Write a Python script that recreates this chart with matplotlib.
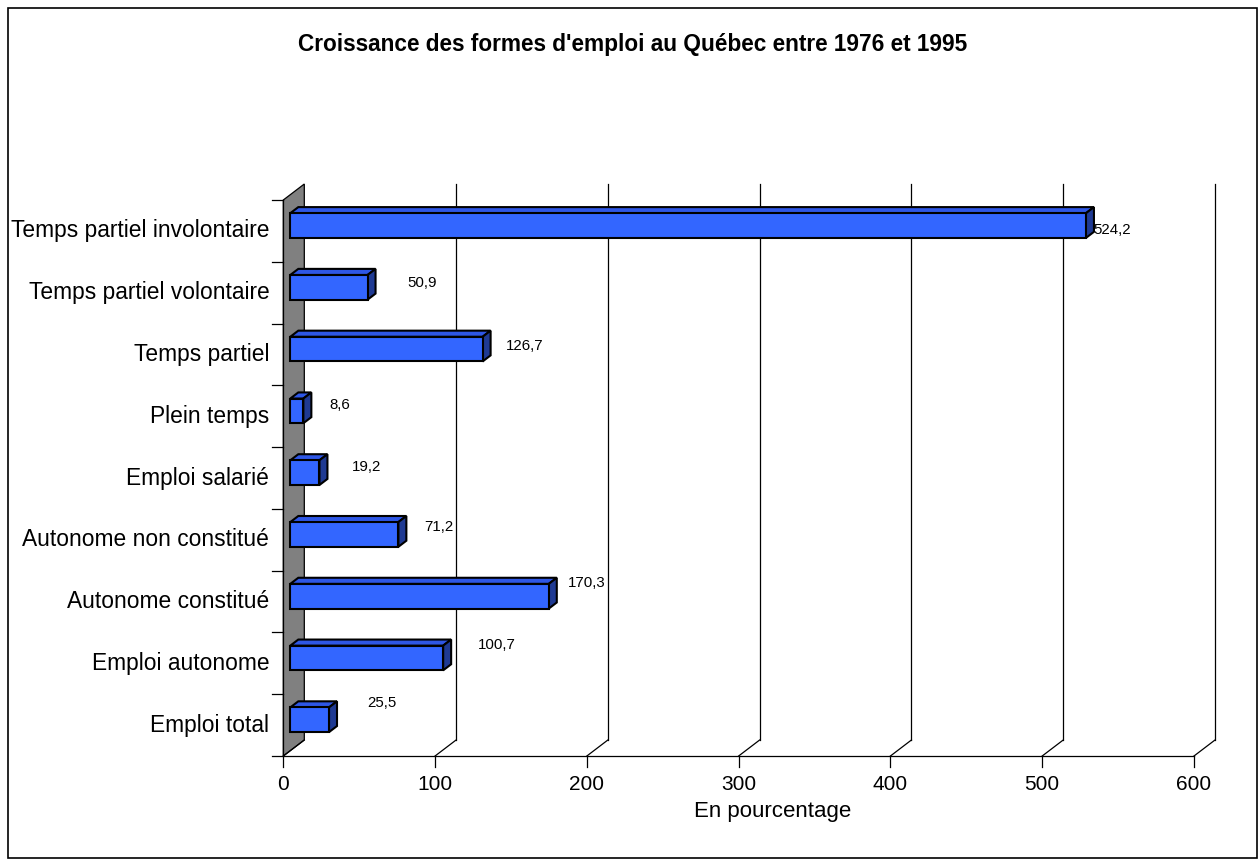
import matplotlib.pyplot as plt
from matplotlib.patches import Polygon, Rectangle
import numpy as np

plt.rcParams['font.family'] = ['Liberation Sans', 'DejaVu Sans']

title = "Croissance des formes d'emploi au Québec entre 1976 et 1995"
categories = ["Temps partiel involontaire", "Temps partiel volontaire", "Temps partiel",
              "Plein temps", "Emploi salarié", "Autonome non constitué",
              "Autonome constitué", "Emploi autonome", "Emploi total"]
values = [524.2, 50.9, 126.7, 8.6, 19.2, 71.2, 170.3, 100.7, 25.5]
value_labels = ["524,2", "50,9", "126,7", "8,6", "19,2", "71,2", "170,3", "100,7", "25,5"]
x_ticks = [0, 100, 200, 300, 400, 500, 600]
x_label = "En pourcentage"

# where each value label sits, in pixels from the bar's front end / category centre
label_dx = [33, 62, 49, 43, 54, 48, 45, 61, 60]
label_dy = [1, 10, 8, 11, 11, 13, 19, 18, 22]

W, H, DPI = 1259, 861, 100
fig = plt.figure(figsize=(W / DPI, H / DPI), dpi=DPI)
fig.patch.set_facecolor('white')

# front plane of the plot in pixels
x0, x1, y_top, y_bot = 283.3, 1194.0, 200.0, 756.0
ax = fig.add_axes([x0 / W, (H - y_bot) / H, (x1 - x0) / W, (y_bot - y_top) / H])
ax.set_xlim(0, 600)
ax.set_ylim(0, len(categories))
ax.axis('off')

# depth of the 3D box, converted from pixels to data units
px_x = (x1 - x0) / 600.0
px_y = (y_bot - y_top) / len(categories)
DX = 21 / px_x
DY = 16 / px_y
n = len(categories)
centers = np.arange(n)[::-1] + 0.5

line_kw = dict(color='black', lw=0.9, clip_on=False)

# left wall
wall = Polygon([(0, 0), (DX, DY), (DX, n + DY), (0, n)], closed=True,
               facecolor='#808080', edgecolor='black', lw=0.9, clip_on=False, zorder=1)
ax.add_patch(wall)

# back-wall gridlines and floor diagonals
for t in x_ticks:
    if t > 0:
        ax.plot([t + DX, t + DX], [DY, n + DY], zorder=1, **line_kw)
    ax.plot([t, t + DX], [0, DY], zorder=1, **line_kw)

# front axes
ax.plot([0, 600], [0, 0], zorder=2, **line_kw)
ax.plot([0, 0], [0, n], zorder=2, **line_kw)
tick_x = 11 / px_x
tick_y = 11 / px_y
for t in x_ticks:
    ax.plot([t, t], [0, -tick_y], zorder=2, **line_kw)
    ax.text(t, -29 / px_y, str(t), ha='center', va='center', fontsize=15)
for k in range(n + 1):
    ax.plot([0, -tick_x], [k, k], zorder=2, **line_kw)

# 3D bars
f0, f1 = 7 / 21, 15 / 21
half = 0.2
front_c, top_c, side_c = '#3366FF', '#2E57E6', '#1F3A93'
bar_kw = dict(closed=True, edgecolor='black', lw=1.5, clip_on=False, zorder=3,
              joinstyle='miter')
for c, v in zip(centers, values):
    ax0, ay0 = f0 * DX, c + f0 * DY
    bx0, by0 = f1 * DX, c + f1 * DY
    top = Polygon([(ax0, ay0 + half), (ax0 + v, ay0 + half),
                   (bx0 + v, by0 + half), (bx0, by0 + half)], facecolor=top_c, **bar_kw)
    side = Polygon([(ax0 + v, ay0 - half), (ax0 + v, ay0 + half),
                    (bx0 + v, by0 + half), (bx0 + v, by0 - half)], facecolor=side_c, **bar_kw)
    front = Polygon([(ax0, ay0 - half), (ax0 + v, ay0 - half),
                     (ax0 + v, ay0 + half), (ax0, ay0 + half)], facecolor=front_c, **bar_kw)
    for p in (top, side, front):
        ax.add_patch(p)

# value labels
for c, v, lab, dx, dy in zip(centers, values, value_labels, label_dx, label_dy):
    ax.annotate(lab, xy=(v, c), xytext=(dx, dy), textcoords='offset pixels',
                ha='center', va='center', fontsize=10.8, zorder=4, annotation_clip=False)

# category labels
for c, name in zip(centers, categories):
    ax.text(-14 / px_x, c, name, ha='right', va='center', fontsize=16.4)

fig.text(773 / W, 1 - 812 / H, x_label, ha='center', va='center', fontsize=16)
fig.text(633 / W, 1 - 45 / H, title, ha='center', va='center', fontsize=16.3,
         fontweight='bold')

# chart frame
fig.add_artist(Rectangle((8 / W, 1 - 858 / H), (1257 - 8) / W, (858 - 8) / H,
                         transform=fig.transFigure, fill=False, edgecolor='black', lw=1.2))

fig.savefig('out.png', dpi=DPI)
